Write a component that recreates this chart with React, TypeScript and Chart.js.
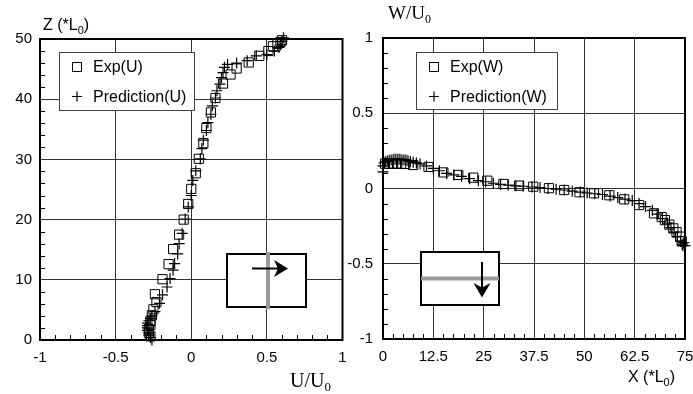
import React, { useEffect, useRef } from "react";
import { Chart, registerables } from "chart.js";
Chart.register(...registerables);

// ---------------- data ----------------
const uTicks = [-1, -0.5, 0, 0.5, 1];
const zTicks = [0, 10, 20, 30, 40, 50];
const xTicks = [0, 12.5, 25, 37.5, 50, 62.5, 75];
const wTicks = [-1, -0.5, 0, 0.5, 1];

const expULabel = "Exp(U)";
const predULabel = "Prediction(U)";
const expWLabel = "Exp(W)";
const predWLabel = "Prediction(W)";

// Left panel: U/U0 (x) vs Z (*L0) (y)
const expU_u = [0.60, 0.59, 0.57, 0.54, 0.51, 0.45, 0.38, 0.30, 0.26, 0.21, 0.16, 0.13, 0.10, 0.08, 0.05, 0.03, 0.00, -0.02, -0.05, -0.08, -0.12, -0.15, -0.19, -0.24, -0.23, -0.25, -0.26, -0.27, -0.27, -0.28, -0.28, -0.27];
const expU_z = [49.8, 49.5, 49.2, 48.8, 48.0, 47.2, 46.1, 45.1, 44.1, 42.6, 40.2, 37.8, 35.2, 32.7, 30.1, 27.7, 25.1, 22.6, 20.0, 17.5, 15.1, 12.6, 10.1, 7.6, 6.3, 5.1, 4.1, 3.1, 2.5, 1.8, 1.2, 0.6];

const predU_u = [0.61, 0.60, 0.59, 0.58, 0.55, 0.50, 0.43, 0.37, 0.30, 0.24, 0.22, 0.21, 0.20, 0.19, 0.17, 0.16, 0.14, 0.13, 0.11, 0.10, 0.08, 0.07, 0.06, 0.03, 0.01, 0.00, -0.02, -0.04, -0.06, -0.08, -0.09, -0.11, -0.12, -0.14, -0.16, -0.19, -0.21, -0.24, -0.26, -0.27, -0.28, -0.29, -0.29, -0.29, -0.29, -0.28, -0.28, -0.27, -0.26];
const predU_z = [50.2, 49.6, 49.0, 48.6, 48.0, 47.4, 47.2, 46.4, 46.0, 45.8, 45.3, 44.4, 43.6, 42.5, 41.4, 40.2, 38.9, 37.5, 36.1, 34.8, 33.2, 31.8, 30.1, 28.1, 26.5, 24.0, 22.1, 20.1, 17.7, 16.0, 14.3, 12.7, 11.6, 10.2, 8.8, 7.5, 6.1, 4.7, 4.0, 3.6, 3.2, 2.8, 2.4, 2.0, 1.6, 1.2, 0.8, 0.4, 0.0];

// Right panel: X (*L0) (x) vs W/U0 (y)
const expW_x = [0.5, 1.5, 2.5, 3.5, 4.5, 5.5, 7.5, 11.3, 15.0, 18.7, 22.4, 25.9, 29.9, 33.8, 37.3, 41.2, 45.0, 48.8, 52.4, 56.2, 59.9, 63.6, 67.3, 69.2, 70.0, 71.1, 72.1, 72.9, 73.8, 74.2];
const expW_w = [0.165, 0.165, 0.165, 0.165, 0.165, 0.163, 0.156, 0.143, 0.107, 0.09, 0.072, 0.052, 0.03, 0.019, 0.012, 0.002, -0.01, -0.025, -0.032, -0.045, -0.072, -0.11, -0.165, -0.19, -0.21, -0.24, -0.265, -0.29, -0.32, -0.35];

const predW_x = [0, 0, 0.3, 0.7, 1.2, 1.7, 2.2, 2.7, 3.2, 3.7, 4.2, 4.7, 5.2, 5.7, 6.2, 6.8, 7.5, 8.3, 9.2, 10.8, 12.5, 14.0, 15.8, 17.6, 19.5, 21.5, 23.7, 25.5, 27.4, 29.2, 31.1, 33.0, 34.8, 37.0, 39.0, 41.0, 43.0, 45.0, 47.0, 49.0, 50.7, 52.6, 54.5, 56.4, 58.3, 60.1, 61.9, 63.6, 65.2, 66.9, 68.1, 69.4, 70.7, 71.5, 72.3, 73.1, 73.9, 74.3, 74.7, 75.0, 74.5];
const predW_w = [0.11, 0.15, 0.17, 0.18, 0.185, 0.19, 0.19, 0.195, 0.195, 0.195, 0.195, 0.19, 0.19, 0.19, 0.185, 0.18, 0.175, 0.17, 0.163, 0.15, 0.134, 0.118, 0.10, 0.09, 0.08, 0.065, 0.052, 0.045, 0.035, 0.028, 0.023, 0.018, 0.015, 0.01, 0.006, 0.0, -0.005, -0.01, -0.018, -0.024, -0.03, -0.035, -0.04, -0.05, -0.06, -0.07, -0.08, -0.1, -0.12, -0.145, -0.17, -0.2, -0.23, -0.26, -0.29, -0.32, -0.35, -0.37, -0.36, -0.38, -0.38];

// ---------------- styling helpers ----------------
const SANS = '"Liberation Sans", Arial, Helvetica, sans-serif';
const SERIF = '"Liberation Serif", "Times New Roman", serif';

type Run = [string, number, number]; // text, font size, baseline shift

function drawRuns(ctx: CanvasRenderingContext2D, x: number, y: number, family: string, runs: Run[]) {
  ctx.save();
  ctx.fillStyle = "#000";
  ctx.textBaseline = "alphabetic";
  ctx.textAlign = "left";
  let cx = x;
  for (const [t, size, dy] of runs) {
    ctx.font = `${size}px ${family}`;
    ctx.fillText(t, cx, y + dy);
    cx += ctx.measureText(t).width;
  }
  ctx.restore();
}

function drawSquare(ctx: CanvasRenderingContext2D, cx: number, cy: number, side: number) {
  ctx.strokeRect(cx - side / 2, cy - side / 2, side, side);
}
function drawPlus(ctx: CanvasRenderingContext2D, cx: number, cy: number, r: number) {
  ctx.beginPath();
  ctx.moveTo(cx - r, cy);
  ctx.lineTo(cx + r, cy);
  ctx.moveTo(cx, cy - r);
  ctx.lineTo(cx, cy + r);
  ctx.stroke();
}

function drawLegend(ctx: CanvasRenderingContext2D, x: number, y: number, w: number, h: number, l1: string, l2: string) {
  ctx.save();
  ctx.fillStyle = "#fff";
  ctx.fillRect(x, y, w, h);
  ctx.strokeStyle = "#444";
  ctx.lineWidth = 1;
  ctx.strokeRect(x + 0.5, y + 0.5, w, h);
  ctx.strokeStyle = "#000";
  ctx.lineWidth = 1;
  drawSquare(ctx, x + 18, y + 15, 9);
  ctx.lineWidth = 1.2;
  drawPlus(ctx, x + 18, y + 44.5, 5);
  ctx.fillStyle = "#000";
  ctx.font = `16px ${SANS}`;
  ctx.textBaseline = "middle";
  ctx.fillText(l1, x + 34, y + 16);
  ctx.fillText(l2, x + 34, y + 45.5);
  ctx.restore();
}

function frameAndMinor(chart: any, minorX: number[], minorY: number[]) {
  const { ctx, chartArea: a, scales } = chart;
  ctx.save();
  ctx.strokeStyle = "#000";
  ctx.lineWidth = 1;
  ctx.beginPath();
  for (const v of minorX) {
    const p = Math.round(scales.x.getPixelForValue(v)) + 0.5;
    ctx.moveTo(p, a.bottom);
    ctx.lineTo(p, a.bottom - 5);
  }
  for (const v of minorY) {
    const p = Math.round(scales.y.getPixelForValue(v)) + 0.5;
    ctx.moveTo(a.left, p);
    ctx.lineTo(a.left + 5, p);
  }
  ctx.stroke();
  ctx.lineWidth = 2;
  ctx.strokeRect(a.left, a.top, a.right - a.left, a.bottom - a.top);
  ctx.restore();
}

function minorList(min: number, max: number, step: number, majorEvery: number): number[] {
  const out: number[] = [];
  const n = Math.round((max - min) / step);
  for (let i = 1; i < n; i++) if (i % majorEvery !== 0) out.push(min + i * step);
  return out;
}

function axis(min: number, max: number, ticksArr: number[], isX: boolean, size: number, pad: number) {
  return {
    type: "linear",
    min,
    max,
    afterBuildTicks: (s: any) => {
      s.ticks = ticksArr.map((v) => ({ value: v }));
    },
    afterFit: (s: any) => {
      if (isX) s.height = size;
      else s.width = size;
      s.paddingLeft = 0;
      s.paddingRight = 0;
      s.paddingTop = 0;
      s.paddingBottom = 0;
    },
    grid: { color: "#333", lineWidth: 1, drawTicks: false },
    border: { display: false },
    ticks: {
      padding: pad,
      color: "#000",
      font: { family: SANS, size: 15 },
      maxRotation: 0,
      autoSkip: false,
      callback: (v: number) => String(v),
    },
  };
}

function datasets(ex: number[], ey: number[], px: number[], py: number[], l1: string, l2: string) {
  return [
    {
      label: l1,
      data: ex.map((v, i) => ({ x: v, y: ey[i] })),
      pointStyle: "rect",
      pointRadius: 6.5,
      borderColor: "#000",
      backgroundColor: "rgba(0,0,0,0)",
      borderWidth: 1,
      showLine: false,
      clip: false,
    },
    {
      label: l2,
      data: px.map((v, i) => ({ x: v, y: py[i] })),
      pointStyle: "cross",
      pointRadius: 5.5,
      borderColor: "#000",
      backgroundColor: "#000",
      borderWidth: 1.2,
      showLine: false,
      clip: false,
    },
  ];
}

function leftConfig(): any {
  const decor = {
    id: "decorLeft",
    afterDatasetsDraw(chart: any) {
      const ctx = chart.ctx as CanvasRenderingContext2D;
      // inset
      ctx.save();
      ctx.fillStyle = "#fff";
      ctx.fillRect(227, 254, 79, 53);
      ctx.strokeStyle = "#000";
      ctx.lineWidth = 2;
      ctx.strokeRect(227, 254, 79, 53);
      ctx.fillStyle = "#999";
      ctx.fillRect(266, 252, 4, 57);
      ctx.strokeStyle = "#000";
      ctx.lineWidth = 2;
      ctx.beginPath();
      ctx.moveTo(252, 268.5);
      ctx.lineTo(279, 268.5);
      ctx.stroke();
      ctx.fillStyle = "#000";
      ctx.beginPath();
      ctx.moveTo(288, 268.5);
      ctx.lineTo(274, 260);
      ctx.lineTo(278, 268.5);
      ctx.lineTo(274, 277);
      ctx.closePath();
      ctx.fill();
      ctx.restore();
      drawLegend(ctx, 59, 52, 135, 58, expULabel, predULabel);
      frameAndMinor(chart, minorList(-1, 1, 0.1, 5), minorList(0, 50, 2, 5));
      drawRuns(ctx, 43, 30, SANS, [["Z (*L", 16, 0], ["0", 11, 4], [")", 16, 0]]);
      drawRuns(ctx, 290, 387, SERIF, [["U/U", 20, 0], ["0", 13, 4]]);
    },
  };
  return {
    type: "scatter",
    data: { datasets: datasets(expU_u, expU_z, predU_u, predU_z, expULabel, predULabel) },
    options: {
      responsive: false,
      animation: false,
      events: [],
      layout: { padding: { left: 0, right: 7, top: 39, bottom: 0 } },
      plugins: { legend: { display: false }, tooltip: { enabled: false } },
      scales: {
        x: axis(-1, 1, uTicks, true, 54, 9),
        y: axis(0, 50, zTicks, false, 40, 8),
      },
    },
    plugins: [decor],
  };
}

function rightConfig(): any {
  const OFF = 345;
  const decor = {
    id: "decorRight",
    afterDatasetsDraw(chart: any) {
      const ctx = chart.ctx as CanvasRenderingContext2D;
      ctx.save();
      ctx.translate(-OFF, 0);
      ctx.fillStyle = "#fff";
      ctx.fillRect(421, 252, 78, 53);
      ctx.strokeStyle = "#000";
      ctx.lineWidth = 2;
      ctx.strokeRect(421, 252, 78, 53);
      ctx.fillStyle = "#999";
      ctx.fillRect(421, 276.5, 78, 4);
      ctx.strokeStyle = "#000";
      ctx.lineWidth = 2;
      ctx.beginPath();
      ctx.moveTo(482, 262);
      ctx.lineTo(482, 289);
      ctx.stroke();
      ctx.fillStyle = "#000";
      ctx.beginPath();
      ctx.moveTo(482, 297.5);
      ctx.lineTo(473.5, 283);
      ctx.lineTo(482, 287.5);
      ctx.lineTo(490.5, 283);
      ctx.closePath();
      ctx.fill();
      drawLegend(ctx, 416, 52, 141, 57, expWLabel, predWLabel);
      drawRuns(ctx, 388, 19, SERIF, [["W/U", 19, 0], ["0", 12, 4]]);
      drawRuns(ctx, 628, 382, SANS, [["X (*L", 16, 0], ["0", 11, 4], [")", 16, 0]]);
      ctx.restore();
      frameAndMinor(chart, minorList(0, 75, 2.5, 5), minorList(-1, 1, 0.1, 5));
    },
  };
  return {
    type: "scatter",
    data: { datasets: datasets(expW_x, expW_w, predW_x, predW_w, expWLabel, predWLabel) },
    options: {
      responsive: false,
      animation: false,
      events: [],
      layout: { padding: { left: 0, right: 8, top: 38, bottom: 0 } },
      plugins: { legend: { display: false }, tooltip: { enabled: false } },
      scales: {
        x: axis(0, 75, xTicks, true, 55, 9),
        y: axis(-1, 1, wTicks, false, 38, 10),
      },
    },
    plugins: [decor],
  };
}

function Panel({ left, width, build }: { left: number; width: number; build: () => any }) {
  const ref = useRef<HTMLCanvasElement>(null);
  useEffect(() => {
    const c = new Chart(ref.current as HTMLCanvasElement, build());
    return () => c.destroy();
  }, []);
  return (
    <canvas
      ref={ref}
      width={width}
      height={394}
      style={{ position: "absolute", left, top: 0, width, height: 394 }}
    />
  );
}

export default function App() {
  return (
    <div
      style={{
        position: "fixed",
        left: 0,
        top: 0,
        width: 693,
        height: 394,
        background: "#fff",
        overflow: "hidden",
      }}
    >
      <Panel left={0} width={350} build={leftConfig} />
      <Panel left={345} width={348} build={rightConfig} />
    </div>
  );
}
